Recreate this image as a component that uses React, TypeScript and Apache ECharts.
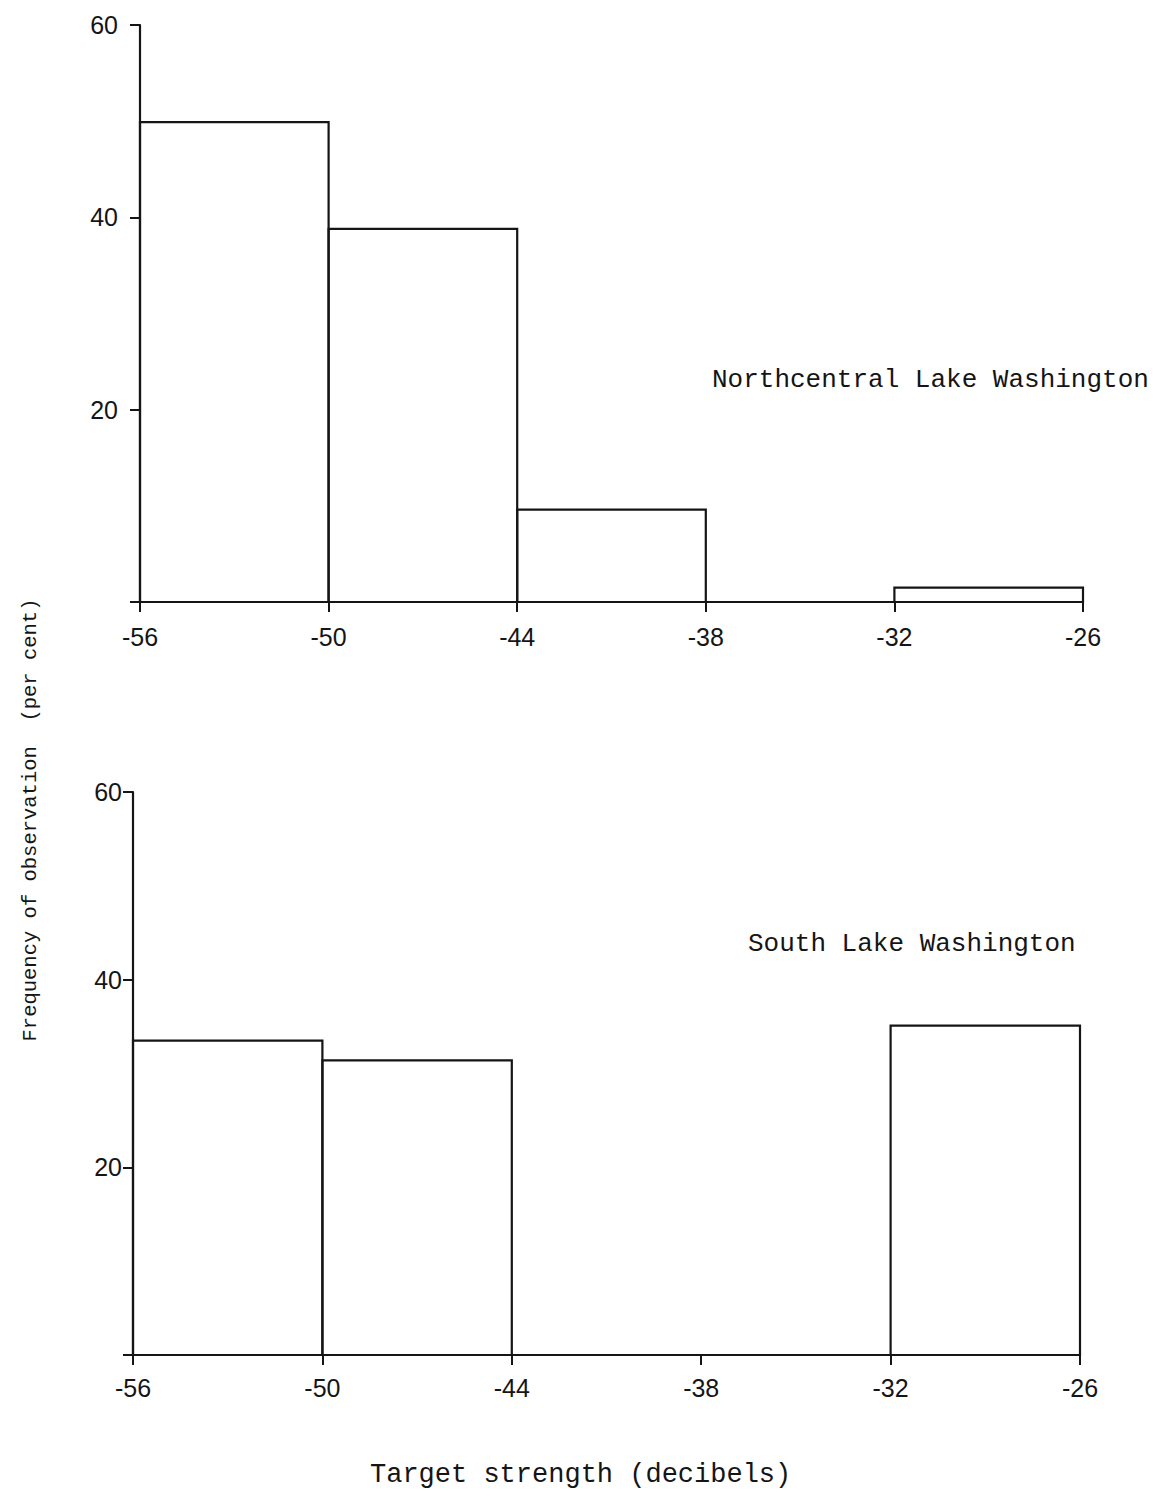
import React, { useEffect, useRef } from "react";
import * as echarts from "echarts";

// Bin edges (decibels)
const binStarts = [-56, -50, -44, -38, -32];
const binEnds = [-50, -44, -38, -32, -26];
// Frequency of observation (per cent)
const northValues = [49.9, 38.8, 9.6, 0, 1.5];
const southValues = [33.5, 31.4, 0, 0, 35.1];

const xTicks = [-56, -50, -44, -38, -32, -26];
const yTicks = [0, 20, 40, 60];

const northTitle = "Northcentral Lake Washington";
const southTitle = "South Lake Washington";
const xTitle = "Target strength (decibels)";
const yTitle = "Frequency of observation  (per cent)";

const INK = "#151515";
const MONO = "'Liberation Mono', 'DejaVu Sans Mono', monospace";
const SANS = "'Liberation Sans', Arial, sans-serif";

function histData(values: number[]) {
  const out: number[][] = [];
  values.forEach((v, i) => {
    if (v > 0) out.push([binStarts[i], binEnds[i], v]);
  });
  return out;
}

const renderBin = (params: any, api: any) => {
  const x0 = api.value(0);
  const x1 = api.value(1);
  const v = api.value(2);
  const p0 = api.coord([x0, v]);
  const p1 = api.coord([x1, 0]);
  return {
    type: "rect",
    shape: { x: p0[0], y: p0[1], width: p1[0] - p0[0], height: p1[1] - p0[1] },
    style: { fill: "none", stroke: INK, lineWidth: 2.2 },
  };
};

function xAxisFor(gridIndex: number, margin: number) {
  return {
    type: "value",
    gridIndex,
    min: xTicks[0],
    max: xTicks[xTicks.length - 1],
    interval: 6,
    axisLine: { show: true, onZero: false, lineStyle: { color: INK, width: 2.2 } },
    axisTick: { show: true, inside: false, length: 10, lineStyle: { color: INK, width: 2 } },
    axisLabel: { show: true, color: INK, fontFamily: SANS, fontSize: 25, margin },
    splitLine: { show: false },
  };
}

function yAxisFor(gridIndex: number, margin: number) {
  return {
    type: "value",
    gridIndex,
    min: yTicks[0],
    max: yTicks[yTicks.length - 1],
    interval: 20,
    axisLine: { show: true, lineStyle: { color: INK, width: 2.2 } },
    axisTick: { show: true, inside: false, length: 10, lineStyle: { color: INK, width: 2 } },
    axisLabel: {
      show: true,
      color: INK,
      fontFamily: SANS,
      fontSize: 25,
      margin,
      formatter: (v: number) => (v === 0 ? "" : String(v)),
    },
    splitLine: { show: false },
  };
}

export default function App() {
  const ref = useRef<HTMLDivElement>(null);
  useEffect(() => {
    if (!ref.current) return;
    const chart = echarts.init(ref.current, undefined, { renderer: "svg" });
    chart.setOption({
      animation: false,
      backgroundColor: "#ffffff",
      grid: [
        { left: 140, right: 77, top: 25, height: 577 },
        { left: 133, right: 80, top: 792, height: 563 },
      ],
      xAxis: [xAxisFor(0, 22), xAxisFor(1, 20)],
      yAxis: [yAxisFor(0, 22), yAxisFor(1, 11)],
      series: [
        {
          type: "custom",
          xAxisIndex: 0,
          yAxisIndex: 0,
          renderItem: renderBin,
          encode: { x: [0, 1], y: 2 },
          data: histData(northValues),
        },
        {
          type: "custom",
          xAxisIndex: 1,
          yAxisIndex: 1,
          renderItem: renderBin,
          encode: { x: [0, 1], y: 2 },
          data: histData(southValues),
        },
      ],
      graphic: [
        {
          type: "text",
          left: 712,
          top: 367,
          style: { text: northTitle, fill: INK, font: `26px ${MONO}` },
        },
        {
          type: "text",
          left: 748,
          top: 931,
          style: { text: southTitle, fill: INK, font: `26px ${MONO}` },
        },
        {
          type: "text",
          left: 370,
          top: 1461,
          style: { text: xTitle, fill: INK, font: `27px ${MONO}` },
        },
        {
          type: "text",
          x: 30,
          y: 820,
          rotation: Math.PI / 2,
          style: {
            text: yTitle,
            fill: INK,
            font: `20.5px ${MONO}`,
            align: "center",
            verticalAlign: "middle",
          },
        },
      ],
    });
    return () => chart.dispose();
  }, []);
  return (
    <div
      ref={ref}
      style={{ position: "absolute", left: 0, top: 0, width: 1160, height: 1497 }}
    />
  );
}
